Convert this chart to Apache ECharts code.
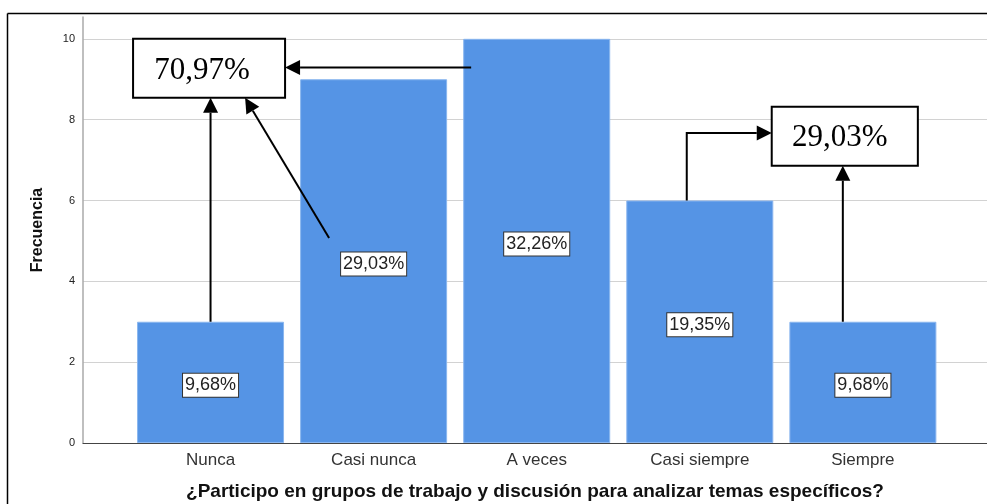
<!DOCTYPE html>
<html>
<head>
<meta charset="utf-8">
<script src="https://cdn.jsdelivr.net/npm/echarts@6/dist/echarts.min.js"></script>
<style>
html,body{margin:0;padding:0;background:#fff;}
#c{width:987px;height:504px;}
</style>
</head>
<body>
<div id="c"></div>
<script>
// ---- data ----
var categories = ['Nunca', 'Casi nunca', 'A veces', 'Casi siempre', 'Siempre'];
var frequencies = [3, 9, 10, 6, 3];
var percentLabels = ['9,68%', '29,03%', '32,26%', '19,35%', '9,68%'];
var groupLabels = ['70,97%', '29,03%'];
var xTitle = '¿Participo en grupos de trabajo y discusión para analizar temas específicos?';
var yTitle = 'Frecuencia';

var SANS = 'Liberation Sans, Arial, sans-serif';
var SERIF = 'Liberation Serif, Times New Roman, serif';

var chart = echarts.init(document.getElementById('c'), null, {renderer: 'canvas'});

var barData = frequencies.map(function (v, i) { return [i, v]; });

chart.setOption({
  animation: false,
  backgroundColor: '#fff',
  grid: {left: 83, right: 0, top: 17, bottom: 61, containLabel: false, outerBoundsMode: 'none'},
  xAxis: {
    type: 'value',
    min: -0.782,
    max: 4.761,
    axisLine: {show: true, onZero: false, lineStyle: {color: '#444', width: 1}},
    axisTick: {show: false},
    splitLine: {show: false},
    axisLabel: {
      customValues: [0, 1, 2, 3, 4],
      formatter: function (v) { return categories[Math.round(v)]; },
      fontFamily: SANS, fontSize: 17, color: '#333', margin: 9
    },
    name: xTitle,
    nameLocation: 'middle',
    nameGap: 39,
    nameTextStyle: {fontFamily: SANS, fontSize: 19, fontWeight: 'bold', color: '#111'}
  },
  yAxis: {
    type: 'value',
    min: 0,
    max: 10.54,
    interval: 2,
    axisLine: {show: true, onZero: false, lineStyle: {color: '#aaa', width: 1.5}},
    axisTick: {show: false},
    axisLabel: {showMaxLabel: false, fontFamily: SANS, fontSize: 11, color: '#222', margin: 8},
    splitLine: {show: true, showMaxLine: false, showMinLine: false, lineStyle: {color: '#d2d2d2', width: 1}},
    name: yTitle,
    nameLocation: 'middle',
    nameRotate: 90,
    nameGap: 37,
    nameTextStyle: {fontFamily: SANS, fontSize: 16, fontWeight: 'bold', color: '#111'}
  },
  series: [{
    type: 'bar',
    data: barData,
    barWidth: 147,
    itemStyle: {color: '#5594E5', borderColor: '#8ab6ef', borderWidth: 1},
    label: {
      show: true,
      position: 'inside',
      offset: [0, 3],
      formatter: function (p) { return percentLabels[p.dataIndex]; },
      backgroundColor: '#fff',
      borderColor: '#333',
      borderWidth: 1,
      padding: [3, 2, 2, 2],
      fontFamily: SANS,
      fontSize: 18,
      color: '#222'
    }
  }]
});

// ---- annotations, positioned in data coordinates ----
function px(x, y) { return chart.convertToPixel({gridIndex: 0}, [x, y]); }

var g = [];
function arrow(points) {
  var pts = points.map(function (p) { return px(p[0], p[1]); });
  var n = pts.length;
  var a = pts[n - 2], b = pts[n - 1];
  var dx = b[0] - a[0], dy = b[1] - a[1];
  var len = Math.sqrt(dx * dx + dy * dy);
  var ux = dx / len, uy = dy / len;
  var L = 15, W = 7.5;
  var base = [b[0] - ux * L, b[1] - uy * L];
  var shaft = pts.slice(0, n - 1).concat([base]);
  g.push({type: 'polyline', z: 100, shape: {points: shaft}, style: {stroke: '#000', lineWidth: 2, fill: null}});
  g.push({type: 'polygon', z: 100, shape: {points: [
    b,
    [base[0] - uy * W, base[1] + ux * W],
    [base[0] + uy * W, base[1] - ux * W]
  ]}, style: {fill: '#000'}});
}
function box(x0, y0, x1, y1, text, dx, dy) {
  var p0 = px(x0, y0), p1 = px(x1, y1);
  var w = p1[0] - p0[0], h = p1[1] - p0[1];
  g.push({type: 'rect', z: 100, shape: {x: p0[0], y: p0[1], width: w, height: h},
    style: {fill: '#fff', stroke: '#000', lineWidth: 2}});
  g.push({type: 'text', z: 101, x: p0[0] + w / 2 + dx, y: p0[1] + h / 2 + dy,
    style: {text: text, font: '31px ' + SERIF, fill: '#000', align: 'center', verticalAlign: 'middle'}});
}

// group 1: Nunca + Casi nunca + A veces
box(-0.475, 10, 0.457, 8.54, groupLabels[0], -7, 3);
arrow([[0, frequencies[0]], [0, 8.54]]);
arrow([[0.727, 5.07], [0.212, 8.54]]);
arrow([[1.598, 9.29], [0.457, 9.29]]);
// group 2: Casi siempre + Siempre
box(3.441, 8.32, 4.337, 6.86, groupLabels[1], -5, 2);
arrow([[2.92, frequencies[3]], [2.92, 7.67], [3.441, 7.67]]);
arrow([[3.877, frequencies[4]], [3.877, 6.86]]);

// outer frame (top and left edges)
g.push({type: 'line', z: 100, shape: {x1: 7.5, y1: 13.5, x2: 987, y2: 13.5}, style: {stroke: '#000', lineWidth: 1.5}});
g.push({type: 'line', z: 100, shape: {x1: 7.5, y1: 13.5, x2: 7.5, y2: 504}, style: {stroke: '#000', lineWidth: 1.5}});

chart.setOption({graphic: g});
</script>
</body>
</html>
